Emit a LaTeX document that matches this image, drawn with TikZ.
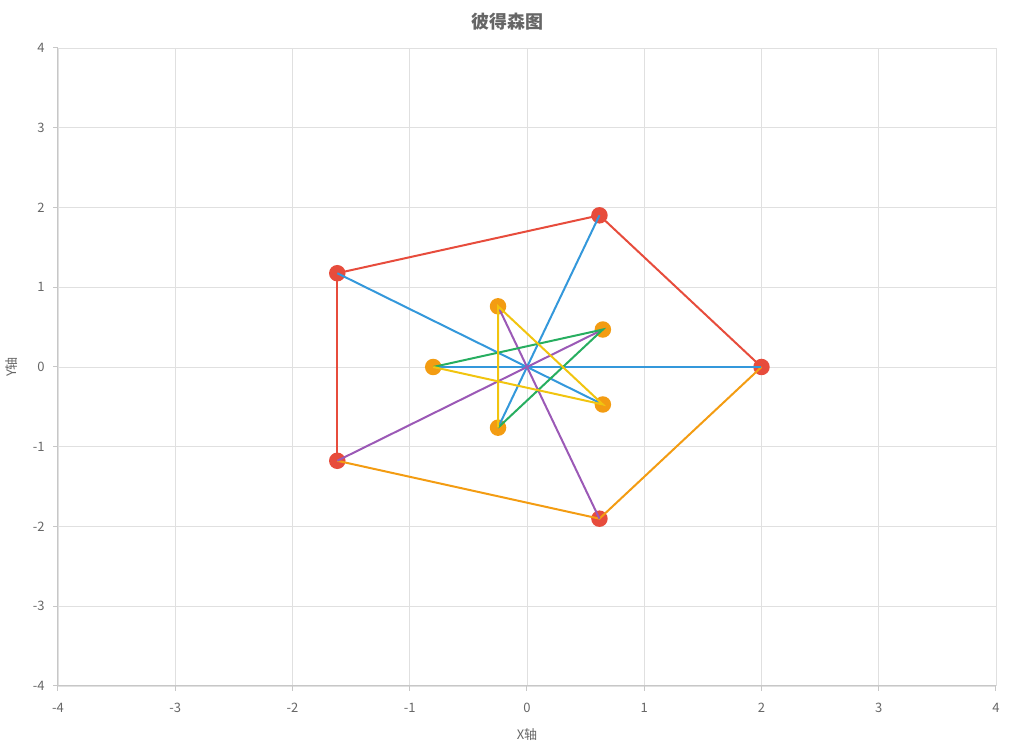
\documentclass[tikz,border=0pt]{standalone}
\usepackage{fontspec}
\setmainfont{Noto Sans CJK SC}

\definecolor{cRed}{HTML}{E74C3C}
\definecolor{cOrange}{HTML}{F39C12}
\definecolor{cBlue}{HTML}{3498DB}
\definecolor{cPurple}{HTML}{9B59B6}
\definecolor{cGreen}{HTML}{27AE60}
\definecolor{cYellow}{HTML}{F1C40F}
\definecolor{cText}{HTML}{666666}

\begin{document}
\begin{tikzpicture}[x=117.25pt,y=79.75pt,
  gridline/.style={draw=black!12,line width=.8pt},
  axisline/.style={draw=black!22,line width=1pt},
  edge/.style={line width=2pt},
  dot/.style={circle,inner sep=0pt,minimum size=16.5pt},
  ticklabel/.style={font=\fontsize{13}{15}\selectfont,text=cText},
  heading/.style={font=\fontsize{18}{21}\selectfont\bfseries,text=cText}]

\useasboundingbox (-4.4947,-4.8025) rectangle (4.1365,4.6019);

% Grid, axes and tick labels.
\foreach \t in {-4,...,4}
{
  \draw[gridline] (\t,-4) -- (\t,4);
  \draw[gridline] (-4,\t) -- (4,\t);
}
\draw[axisline] (-4,-4) -- (4,-4);
\draw[axisline] (-4,-4) -- (-4,4);
\foreach \t in {-4,...,4}
{
  \draw[axisline] (\t,-4) -- ++(0,-5pt);
  \draw[axisline] (-4,\t) -- ++(-5pt,0);
  \node[ticklabel] at (\t,-4.276) {\t};
  \node[ticklabel,anchor=east] at (-4.085,\t) {\t};
}
\node[ticklabel] (xlab) at (0,-4.614) {X轴};
\node[ticklabel,rotate=90] (ylab) at (-4.392,0) {Y轴};
\node[heading] (title) at (-0.17,4.326) {彼得森图};

% Outer pentagon and inner star vertices.
\foreach \n/\x/\y in {1/2/0,2/0.618/1.902,3/-1.618/1.176,4/-1.618/-1.176,5/0.618/-1.902}
  \node[dot,fill=cRed] (o\n) at (\x,\y) {};
\foreach \n/\x/\y in {1/0.647/-0.470,2/0.647/0.470,3/-0.247/0.761,4/-0.8/0/,5/-0.247/-0.761}
  \node[dot,fill=cOrange] (i\n) at (\x,\y) {};

% Edges.
\draw[edge,cRed] (o3.center) -- (o2.center) -- (o1.center);
\draw[edge,cRed] (o3.center) -- (o4.center);
\draw[edge,cOrange] (o4.center) -- (o5.center) -- (o1.center);
\draw[edge,cBlue] (o1.center) -- (i4.center);
\draw[edge,cBlue] (o2.center) -- (i5.center);
\draw[edge,cBlue] (o3.center) -- (i1.center);
\draw[edge,cPurple] (o4.center) -- (i2.center);
\draw[edge,cPurple] (o5.center) -- (i3.center);
\draw[edge,cGreen] (i4.center) -- (i2.center) -- (i5.center);
\draw[edge,cYellow] (i4.center) -- (i1.center) -- (i3.center) -- (i5.center);
\end{tikzpicture}
\end{document}
